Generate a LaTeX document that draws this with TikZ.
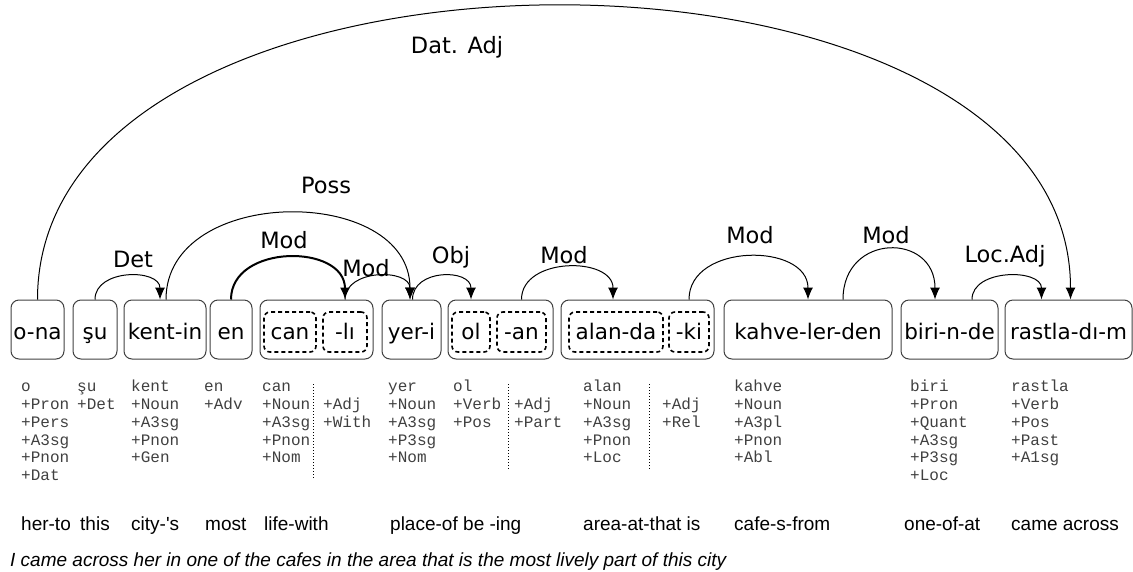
\documentclass[tikz,border=0pt]{standalone}
\usepackage{fontspec}
\setmainfont{DejaVu Sans}
\newfontfamily\glossfont{Liberation Sans}
\newfontfamily\morphfont{Liberation Mono}
\usetikzlibrary{arrows.meta}

\tikzset{
	wordbox/.style={draw=black!75, line width=1pt, rounded corners=8pt, minimum height=59pt, inner sep=0pt, text height=19pt, text depth=0pt, font=\fontsize{21.5}{24}\selectfont},
	partbox/.style={draw, dash pattern=on 4pt off 3pt, line width=1.6pt, rounded corners=6pt, minimum height=40pt, inner sep=0pt, text height=14pt, text depth=0pt, font=\fontsize{21.5}{24}\selectfont},
	rel/.style={anchor=base, inner sep=0pt, font=\fontsize{22.5}{24}\selectfont},
	dep/.style={line width=1pt, -{Latex[length=12pt,width=10pt]}},
	morph/.style={anchor=north west, inner sep=0pt, align=left, text=black!75, font=\morphfont\fontsize{16}{17.8}\selectfont},
	gloss/.style={anchor=base west, inner sep=0pt, font=\glossfont\fontsize{19}{22}\selectfont},
}

\begin{document}
\begin{tikzpicture}[x=1pt,y=-1pt]
	\useasboundingbox (0,0) rectangle (1133,571);

	% words
	\node [wordbox, minimum width=53pt]  (ona)    at (37.5,329.5)  {o-na};
	\node [wordbox, minimum width=44pt]  (su)     at (95,329.5)    {şu};
	\node [wordbox, minimum width=82pt]  (kentin) at (165,329.5)   {kent-in};
	\node [wordbox, minimum width=42pt]  (en)     at (231,329.5)   {en};
	\node [wordbox, minimum width=113pt] (canli)  at (316.5,329.5) {};
	\node [partbox, minimum width=52pt]  (can)    at (290,332)     {can};
	\node [partbox, minimum width=44pt]  (li)     at (345,332)     {-lı};
	\node [wordbox, minimum width=59pt]  (yeri)   at (411.5,329.5) {yer-i};
	\node [wordbox, minimum width=105pt] (olan)   at (500.5,329.5) {};
	\node [partbox, minimum width=38pt]  (ol)     at (471,332)     {ol};
	\node [partbox, minimum width=49pt]  (an)     at (521.5,332)   {-an};
	\node [wordbox, minimum width=153pt] (alandaki) at (637.5,329.5) {};
	\node [partbox, minimum width=94pt]  (alanda) at (616,332)     {alan-da};
	\node [partbox, minimum width=40pt]  (ki)     at (689,332)     {-ki};
	\node [wordbox, minimum width=168pt] (kahve)  at (808,329.5)   {kahve-ler-den};
	\node [wordbox, minimum width=97pt]  (biri)   at (949.5,329.5) {biri-n-de};
	\node [wordbox, minimum width=127pt] (rastla) at (1068.5,329.5) {rastla-dı-m};

	% dependencies
	\draw [dep] (ona.north) .. controls +(0,-391) and +(0,-391) .. ([xshift=2pt]rastla.north);
	\draw [dep] (su.north) .. controls +(0,-31) and +(0,-31) .. ([xshift=-5pt]kentin.north);
	\draw [dep] ([xshift=1pt]kentin.north) .. controls +(0,-115) and +(0,-115) .. ([xshift=-1.5pt]yeri.north);
	\draw [dep, line width=2pt] (en.north) .. controls +(0,-56) and +(0,-56) .. (li.north |- canli.north);
	\draw [dep] (li.north |- canli.north) .. controls +(0,-31) and +(0,-31) .. ([xshift=-1.5pt]yeri.north);
	\draw [dep] ([xshift=1pt]yeri.north) .. controls +(0,-31) and +(0,-31) .. (ol.north |- olan.north);
	\draw [dep] (an.north |- olan.north) .. controls +(0,-43) and +(0,-43) .. ([xshift=-3pt]alanda.north |- alandaki.north);
	\draw [dep] (ki.north |- alandaki.north) .. controls +(0,-57) and +(0,-57) .. (kahve.north);
	\draw [dep] ([xshift=35pt]kahve.north) .. controls +(0,-67) and +(0,-67) .. ([xshift=-14.5pt]biri.north);
	\draw [dep] ([xshift=22.5pt]biri.north) .. controls +(0,-31) and +(0,-31) .. ([xshift=-27pt]rastla.north);

	\node [rel] (datadj)  at (457,53)  {Dat. Adj};
	\node [rel] (poss)    at (326,193) {Poss};
	\node [rel] (modcan)  at (284,248) {Mod};
	\node [rel] (det)     at (133,267) {Det};
	\node [rel] (modli)   at (366,276) {Mod};
	\node [rel] (obj)     at (451,263) {Obj};
	\node [rel] (modan)   at (564,263) {Mod};
	\node [rel] (modki)   at (750,243) {Mod};
	\node [rel] (modkahve) at (886,243) {Mod};
	\node [rel] (locadj)  at (1005,262) {Loc.Adj};

	% morphological analyses
	\foreach \x/\y/\n/\t in {21/379/ona/{o\\+Pron\\+Pers\\+A3sg\\+Pnon\\+Dat}, 77/379/su/{şu\\+Det},
			131/379/kentin/{kent\\+Noun\\+A3sg\\+Pnon\\+Gen}, 204/379/en/{en\\+Adv},
			262/379/can/{can\\+Noun\\+A3sg\\+Pnon\\+Nom}, 323/396.8/li/{+Adj\\+With},
			388/379/yeri/{yer\\+Noun\\+A3sg\\+P3sg\\+Nom}, 453/379/ol/{ol\\+Verb\\+Pos},
			514/396.8/an/{+Adj\\+Part}, 583/379/alanda/{alan\\+Noun\\+A3sg\\+Pnon\\+Loc},
			662/396.8/ki/{+Adj\\+Rel}, 734/379/kahve/{kahve\\+Noun\\+A3pl\\+Pnon\\+Abl},
			910/379/biri/{biri\\+Pron\\+Quant\\+A3sg\\+P3sg\\+Loc}, 1011/379/rastla/{rastla\\+Verb\\+Pos\\+Past\\+A1sg}} {
		\node [morph] (m-\n) at (\x,\y) {\strut\t};
	}
	\draw [dotted, line width=1pt] (313,384) -- (313,479);
	\draw [dotted, line width=1pt] (508,384) -- (508,470);
	\draw [dotted, line width=1pt] (649,384) -- (649,470);

	% glosses
	\foreach \x/\n/\t in {21/ona/her-to, 80/su/this, 131/kentin/city-'s, 205/en/most, 264/canli/life-with,
			390/yeri/place-of, 463/olan/be -ing, 583/alandaki/area-at-that is, 734/kahve/cafe-s-from,
			904/biri/one-of-at, 1011/rastla/came across} {
		\node [gloss] (g-\n) at (\x,530) {\t};
	}
	\node [gloss, font=\glossfont\itshape\fontsize{19}{22}\selectfont] (translation) at (10,566) {I came across her in one of the cafes in the area that is the most lively part of this city};
\end{tikzpicture}
\end{document}
